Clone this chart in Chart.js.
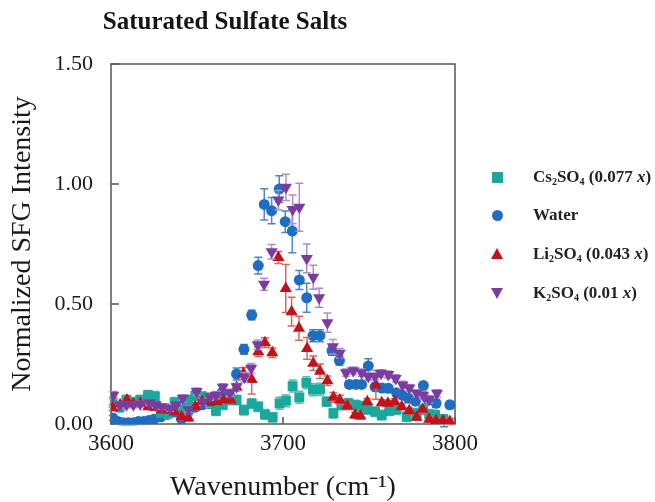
<!DOCTYPE html>
<html>
<head>
<meta charset="utf-8">
<script src="https://cdn.jsdelivr.net/npm/chart.js@4"></script>
<style>
  html, body { margin: 0; padding: 0; background: #fff; }
  #wrap { position: relative; width: 655px; height: 502px; }
  #title {
    position: absolute; left: 0; top: 7px; width: 450px; text-align: center;
    font: bold 25px "Liberation Serif", "Times New Roman", serif; color: #151515;
  }
  .item {
    position: absolute; left: 533px; height: 20px; line-height: 20px;
    font: bold 17px "Liberation Serif", "Times New Roman", serif; color: #222; white-space: nowrap;
  }
  .item sub { font-size: 10px; vertical-align: -3px; }
  .mk { position: absolute; }
</style>
</head>
<body>
<div id="wrap">
  <canvas id="chart" width="655" height="502"></canvas>
  <div id="title">Saturated Sulfate Salts</div>

  <div class="mk" style="left:492px; top:172px; width:11px; height:11px; background:#1aa89c;"></div>
  <div class="item" style="top:167px;">Cs<sub>2</sub>SO<sub>4</sub> (0.077 <i>x</i>)</div>

  <div class="mk" style="left:492px; top:210px; width:11px; height:11px; border-radius:50%; background:#1f6dc0;"></div>
  <div class="item" style="top:205px;">Water</div>

  <div class="mk" style="left:491px; top:248px; width:0; height:0; border-left:6px solid transparent; border-right:6px solid transparent; border-bottom:11px solid #c0141c;"></div>
  <div class="item" style="top:244px;">Li<sub>2</sub>SO<sub>4</sub> (0.043 <i>x</i>)</div>

  <div class="mk" style="left:491px; top:288px; width:0; height:0; border-left:6px solid transparent; border-right:6px solid transparent; border-top:11px solid #7a3c9e;"></div>
  <div class="item" style="top:283px;">K<sub>2</sub>SO<sub>4</sub> (0.01 <i>x</i>)</div>
</div>

<script>
// Cs2SO4 (0.077 x)
const csX = [3601, 3605, 3609, 3613, 3617, 3621.5, 3625.5, 3629, 3633, 3637, 3641, 3645, 3649, 3653, 3657,
  3661, 3665, 3669, 3673, 3677.3, 3681.8, 3685.6, 3689.5, 3694, 3698, 3701.7, 3705.6, 3709.5, 3713.6, 3717.4,
  3721.5, 3725.4, 3729.3, 3734, 3738, 3742, 3745, 3749, 3753.5, 3757.4, 3761.8, 3766, 3771.9, 3777.7, 3781.5,
  3785, 3788.4, 3793.2];
const csY = [0.09, 0.07, 0.1, 0.09, 0.1, 0.12, 0.115, 0.05, 0.045, 0.09, 0.06, 0.1, 0.117, 0.114, 0.09,
  0.055, 0.08, 0.1, 0.1, 0.058, 0.085, 0.072, 0.04, 0.028, 0.086, 0.097, 0.158, 0.111, 0.172, 0.143,
  0.145, 0.093, 0.045, 0.079, 0.086, 0.079, 0.075, 0.061, 0.051, 0.037, 0.055, 0.06, 0.03, 0.045, 0.06,
  0.04, 0.037, 0.02];
const csErr = [0.02, 0.02, 0.02, 0.02, 0.02, 0.02, 0.02, 0.02, 0.02, 0.02, 0.02, 0.02, 0.02, 0.02, 0.02,
  0.02, 0.02, 0.02, 0.02, 0.02, 0.02, 0.02, 0.02, 0.02, 0.025, 0.025, 0.025, 0.025, 0.025, 0.025,
  0.025, 0.02, 0.02, 0.02, 0.02, 0.02, 0.02, 0.02, 0.02, 0.02, 0.02, 0.02, 0.02, 0.02, 0.02,
  0.02, 0.02, 0.02];

// Water
const waterX = [3601, 3604, 3607, 3610, 3613, 3616, 3619, 3622, 3625, 3629, 3633, 3637, 3641, 3645, 3649,
  3653, 3657, 3661, 3664.5, 3669, 3673, 3677.3, 3681.8, 3685.6, 3689.1, 3693.4, 3697.8, 3701.3, 3705.4, 3709.5,
  3713.8, 3717.4, 3721.5, 3728.5, 3732.8, 3738.6, 3742.4, 3745.7, 3749.6, 3753.5, 3757.5, 3761.2, 3766, 3769.5, 3772.9,
  3777, 3781.6, 3784.5, 3789, 3793.6, 3797];
const waterY = [0.025, 0.01, 0.005, 0.005, 0.005, 0.01, 0.01, 0.015, 0.02, 0.03, 0.04, 0.05, 0.02, 0.055, 0.07,
  0.08, 0.085, 0.1, 0.13, 0.12, 0.208, 0.311, 0.454, 0.66, 0.915, 0.889, 0.979, 0.843, 0.804, 0.6,
  0.526, 0.368, 0.368, 0.306, 0.265, 0.165, 0.165, 0.165, 0.242, 0.155, 0.15, 0.149, 0.13, 0.12, 0.107,
  0.095, 0.16, 0.1, 0.086, 0.004, 0.08];
const waterErr = [0.01, 0.01, 0.008, 0.008, 0.008, 0.01, 0.01, 0.01, 0.01, 0.012, 0.012, 0.015, 0.01, 0.015, 0.015,
  0.015, 0.015, 0.015, 0.015, 0.015, 0.025, 0.02, 0.02, 0.035, 0.065, 0.055, 0.055, 0.045, 0.09, 0.04,
  0.06, 0.025, 0.025, 0.02, 0.02, 0.015, 0.015, 0.015, 0.03, 0.015, 0.015, 0.015, 0.015, 0.015, 0.015,
  0.015, 0.015, 0.015, 0.015, 0.015, 0.015];

// Li2SO4 (0.043 x)
const liX = [3601, 3605.3, 3609.3, 3613, 3617, 3621.7, 3625.5, 3629.5, 3633.3, 3637, 3641, 3645, 3649, 3653, 3657,
  3661.4, 3665.5, 3669.6, 3673, 3677, 3681.8, 3685.6, 3689.5, 3693.8, 3697.3, 3701.6, 3705, 3709.3, 3714, 3717.6,
  3721.5, 3725.8, 3729.3, 3733, 3737.4, 3741.9, 3745, 3749, 3754, 3757.4, 3761, 3765, 3769, 3773.4, 3777.7,
  3781.2, 3785, 3789, 3793, 3797];
const liY = [0.068, 0.08, 0.1, 0.083, 0.086, 0.072, 0.07, 0.058, 0.058, 0.05, 0.03, 0.025, 0.072, 0.093, 0.09,
  0.093, 0.1, 0.1, 0.153, 0.21, 0.185, 0.301, 0.339, 0.297, 0.694, 0.565, 0.468, 0.399, 0.315, 0.253,
  0.22, 0.18, 0.111, 0.1, 0.075, 0.037, 0.033, 0.093, 0.163, 0.089, 0.086, 0.093, 0.072, 0.055, 0.028,
  0.061, 0.02, 0.014, 0.014, 0.01];
const liErr = [0.012, 0.012, 0.012, 0.012, 0.012, 0.012, 0.012, 0.012, 0.012, 0.012, 0.012, 0.012, 0.012, 0.012, 0.012,
  0.012, 0.015, 0.015, 0.015, 0.025, 0.06, 0.02, 0.02, 0.02, 0.025, 0.1, 0.06, 0.05, 0.045, 0.03,
  0.03, 0.02, 0.02, 0.02, 0.015, 0.012, 0.012, 0.012, 0.06, 0.012, 0.012, 0.012, 0.012, 0.012, 0.012,
  0.012, 0.012, 0.012, 0.012, 0.012];

// K2SO4 (0.01 x)
const kX = [3601.3, 3605.2, 3609, 3613, 3617, 3622.3, 3626, 3629.5, 3634.3, 3638, 3641.7, 3645, 3649.8, 3653.5, 3657.6,
  3661, 3665, 3669, 3673, 3677.5, 3681.5, 3685.3, 3689, 3693.4, 3697.3, 3701.7, 3705.6, 3709.5, 3713.8, 3717.6,
  3721, 3725.8, 3729, 3733, 3736.6, 3740.9, 3745.7, 3749.6, 3753.5, 3757, 3761.2, 3765.5, 3769.5, 3773.5, 3777.7,
  3781.5, 3785, 3789.5];
const kY = [0.12, 0.079, 0.08, 0.08, 0.083, 0.089, 0.08, 0.072, 0.065, 0.08, 0.107, 0.061, 0.135, 0.09, 0.114,
  0.12, 0.153, 0.13, 0.155, 0.195, 0.232, 0.33, 0.582, 0.718, 0.933, 0.986, 0.894, 0.903, 0.69, 0.611,
  0.526, 0.422, 0.322, 0.295, 0.214, 0.222, 0.214, 0.198, 0.198, 0.211, 0.206, 0.19, 0.163, 0.15, 0.128,
  0.12, 0.103, 0.128];
const kErr = [0.015, 0.012, 0.012, 0.012, 0.012, 0.012, 0.012, 0.012, 0.012, 0.012, 0.015, 0.012, 0.015, 0.012, 0.015,
  0.015, 0.015, 0.015, 0.015, 0.02, 0.02, 0.02, 0.025, 0.03, 0.04, 0.055, 0.06, 0.1, 0.06, 0.05,
  0.04, 0.04, 0.03, 0.02, 0.015, 0.015, 0.015, 0.015, 0.015, 0.015, 0.015, 0.015, 0.015, 0.015, 0.015,
  0.015, 0.015, 0.015];

const xTicks = [3600, 3700, 3800];
const yTicks = [0, 0.5, 1.0, 1.5];

const serif = '"Liberation Serif", "Times New Roman", serif';
const toPoints = (xs, ys) => xs.map((x, i) => ({ x: x, y: ys[i] }));

// vertical error bars, drawn just before each dataset's markers
const errorBars = {
  id: 'errorBars',
  beforeDatasetDraw(chart, args) {
    const ds = chart.data.datasets[args.index];
    if (!ds.errors) return;
    const ctx = chart.ctx;
    const yScale = chart.scales.y;
    ctx.save();
    ctx.strokeStyle = ds.errorColor;
    ctx.lineWidth = 1.5;
    args.meta.data.forEach((pt, i) => {
      const e = ds.errors[i];
      const v = ds.data[i].y;
      const top = yScale.getPixelForValue(v + e);
      const bot = yScale.getPixelForValue(v - e);
      ctx.beginPath();
      ctx.moveTo(pt.x, top); ctx.lineTo(pt.x, bot);
      ctx.moveTo(pt.x - 4, top); ctx.lineTo(pt.x + 4, top);
      ctx.moveTo(pt.x - 4, bot); ctx.lineTo(pt.x + 4, bot);
      ctx.stroke();
    });
    ctx.restore();
  }
};

// box round the plot with small inward tick marks
const frame = {
  id: 'frame',
  beforeDatasetsDraw(chart) {
    const { ctx, chartArea: a, scales } = chart;
    ctx.save();
    ctx.strokeStyle = '#555';
    ctx.lineWidth = 1.5;
    ctx.strokeRect(a.left, a.top, a.right - a.left, a.bottom - a.top);
    ctx.beginPath();
    yTicks.forEach(v => {
      const y = scales.y.getPixelForValue(v);
      ctx.moveTo(a.left, y); ctx.lineTo(a.left + 8, y);
    });
    xTicks.forEach(v => {
      const x = scales.x.getPixelForValue(v);
      ctx.moveTo(x, a.bottom); ctx.lineTo(x, a.bottom - 7);
    });
    ctx.stroke();
    ctx.restore();
  }
};

const ctx = document.getElementById('chart').getContext('2d');

new Chart(ctx, {
  type: 'scatter',
  data: {
    datasets: [
      {
        label: 'Cs2SO4 (0.077 x)', data: toPoints(csX, csY), errors: csErr, errorColor: '#55c0b6',
        pointStyle: 'rect', pointRadius: 7, pointBackgroundColor: '#1aa89c', pointBorderWidth: 0, order: 2
      },
      {
        label: 'Water', data: toPoints(waterX, waterY), errors: waterErr, errorColor: '#4a86cc',
        pointStyle: 'circle', pointRadius: 5.5, pointBackgroundColor: '#1f6dc0', pointBorderWidth: 0, order: 3
      },
      {
        label: 'Li2SO4 (0.043 x)', data: toPoints(liX, liY), errors: liErr, errorColor: '#d9675f',
        pointStyle: 'triangle', pointRadius: 7, pointBackgroundColor: '#c0141c', pointBorderWidth: 0, order: 1
      },
      {
        label: 'K2SO4 (0.01 x)', data: toPoints(kX, kY), errors: kErr, errorColor: '#aa8fcb',
        pointStyle: 'triangle', rotation: 180, pointRadius: 7, pointBackgroundColor: '#7a3c9e', pointBorderWidth: 0, order: 0
      }
    ]
  },
  options: {
    responsive: false,
    animation: false,
    layout: { padding: { top: 64, right: 200, bottom: 0, left: 0 } },
    scales: {
      x: {
        type: 'linear', min: 3600, max: 3800,
        afterBuildTicks: s => { s.ticks = xTicks.map(v => ({ value: v })); },
        ticks: { font: { family: serif, size: 23 }, color: '#1a1a1a', padding: 6, maxRotation: 0, callback: v => String(v) },
        grid: { display: false, drawTicks: false },
        border: { display: false },
        title: {
          display: true, text: 'Wavenumber (cm⁻¹)', color: '#1a1a1a',
          font: { family: serif, size: 28, lineHeight: 1 }, padding: { top: 0, bottom: 0 }
        },
        afterFit: s => { s.height = 78; s.paddingLeft = 0; s.paddingRight = 0; }
      },
      y: {
        min: 0, max: 1.5,
        afterBuildTicks: s => { s.ticks = yTicks.map(v => ({ value: v })); },
        ticks: { font: { family: serif, size: 22 }, color: '#1a1a1a', padding: 18, callback: v => v.toFixed(2) },
        grid: { display: false, drawTicks: false },
        border: { display: false },
        title: {
          display: true, text: 'Normalized SFG Intensity', color: '#1a1a1a',
          font: { family: serif, size: 28 }, padding: { top: 6, bottom: 0 }
        },
        afterFit: s => { s.width = 111; s.paddingTop = 0; s.paddingBottom = 0; }
      }
    },
    plugins: {
      legend: { display: false },
      tooltip: { enabled: false }
    }
  },
  plugins: [errorBars, frame]
});
</script>
</body>
</html>
